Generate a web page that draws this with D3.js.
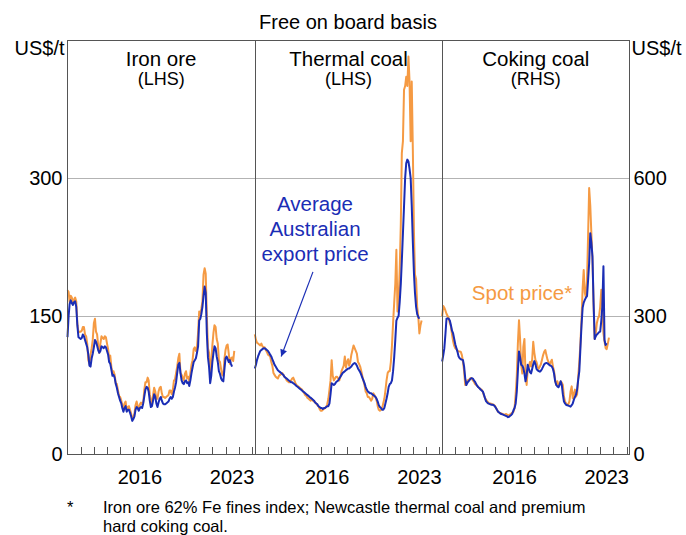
<!DOCTYPE html>
<html>
<head>
<meta charset="utf-8">
<script src="https://cdn.jsdelivr.net/npm/d3@7"></script>
<style>
body { margin: 0; background: #fff; }
text { font-family: "Liberation Sans", Arial, sans-serif; fill: #000; }
</style>
</head>
<body>
<svg id="chart" width="686" height="535"></svg>
<script>
// monthly series, first value is Jan 2011
const panelNames = ["Iron ore", "Thermal coal", "Coking coal"];
const panelSides = ["(LHS)", "(LHS)", "(RHS)"];

const ironSpot = [
  178,176,165,172,170,165,168,170,166,142,132,133,
  133,134,138,138,130,128,120,102,98,108,115,124,
  142,147,133,130,118,110,120,128,126,125,128,127,
  120,114,104,107,95,87,90,86,77,76,69,63,
  62,58,53,48,55,57,48,51,52,48,44,38,
  40,44,53,57,52,48,54,56,54,56,70,78,
  78,83,80,65,58,55,64,72,68,60,60,68,
  72,73,66,62,62,61,62,63,64,69,69,65,
  70,80,81,88,95,104,109,88,86,83,80,87,
  90,82,84,79,88,97,102,114,116,112,116,132,
  155,152,158,166,195,202,196,150,115,110,88,100,
  118,132,140,138,125,120,102,100,92,86,85,103,
  113,118,119,109,98,104,105,101,112
];
const ironExport = [
  127,150,163,167,164,162,165,166,160,140,127,126,
  125,126,130,128,124,120,116,108,96,95,104,109,
  116,124,122,118,113,110,112,117,116,115,117,116,
  112,108,100,98,92,85,86,83,76,72,66,62,
  58,55,50,46,50,52,46,48,48,45,41,36,
  38,41,48,51,50,47,50,51,50,55,63,70,
  73,72,68,58,51,52,58,65,62,55,51,56,
  60,62,58,55,54,54,55,56,57,60,62,60,
  62,68,72,78,88,97,99,88,80,77,76,79,
  80,77,78,74,80,88,94,100,102,104,110,117,
  145,147,152,160,172,182,175,131,105,95,77,85,
  100,110,117,115,106,100,90,87,82,80,79,92,
  104,106,103,100,102,98,95
];
const thermalSpot = [
  130,124,121,120,119,118,120,117,116,116,113,111,
  108,107,106,100,96,88,86,84,83,82,85,86,
  87,88,86,84,83,80,79,78,78,80,82,83,
  80,77,75,74,73,72,71,70,68,66,64,63,
  61,60,59,58,60,58,57,56,55,53,52,49,
  47,47,48,49,50,51,54,60,70,80,102,85,
  80,82,84,84,82,80,84,90,93,96,106,94,
  100,103,96,100,108,113,118,115,112,109,100,98,
  95,90,85,80,75,68,66,62,62,60,58,60,
  66,64,62,58,52,48,47,48,50,55,60,69,
  80,88,90,90,100,118,142,164,185,222,155,165,
  200,250,327,340,396,400,410,400,432,405,340,405,
  330,240,195,190,160,149,131,140,145
];
const thermalExport = [
  93,97,102,106,109,112,113,114,115,115,114,113,
  112,110,108,106,103,100,97,95,93,91,90,89,
  88,87,86,84,83,82,81,80,79,78,78,77,
  76,75,74,73,72,71,70,69,68,67,66,65,
  64,63,62,61,60,59,58,56,55,54,52,51,
  50,50,49,50,50,51,52,52,55,65,77,76,
  75,76,78,79,80,82,84,86,88,89,90,91,
  92,93,93,94,95,97,98,99,98,96,93,91,
  89,86,83,80,77,73,70,68,67,66,66,65,
  64,63,62,60,57,53,51,50,48,48,50,55,
  60,66,73,76,77,80,90,105,124,145,148,150,
  165,185,210,240,269,300,316,320,318,310,300,270,
  230,196,175,160,152,149,147
];
const cokingSpot = [
  300,322,318,312,305,300,295,285,277,260,245,235,
  230,228,225,223,223,222,215,200,180,150,155,160,
  161,163,165,164,160,157,152,150,148,145,143,141,
  140,135,128,122,118,115,112,110,110,109,108,107,
  105,100,96,92,90,89,88,87,86,85,87,86,
  84,85,86,88,90,92,100,130,170,240,291,250,
  194,175,233,250,175,150,183,190,200,190,205,244,
  220,204,200,190,185,190,195,205,215,222,226,215,
  205,199,195,200,205,190,180,161,150,158,150,152,
  158,155,150,125,114,110,107,108,115,136,147,121,
  130,140,125,130,168,200,240,291,360,400,350,340,
  378,480,578,540,480,420,330,250,262,285,295,299,
  320,357,330,262,245,230,228,240,253
];
const cokingExport = [
  201,215,229,260,294,295,294,290,280,268,262,250,
  238,230,222,212,208,206,205,204,190,165,150,155,
  158,161,164,165,164,160,157,152,148,145,143,140,
  138,136,130,122,115,112,110,109,108,107,107,106,
  104,100,96,92,90,88,87,86,85,84,83,82,
  80,81,83,85,88,95,100,110,136,180,223,210,
  194,192,187,175,158,172,194,185,178,175,185,195,
  202,195,185,182,180,179,181,185,190,195,197,198,
  197,195,193,192,190,185,175,158,150,147,145,150,
  158,150,130,114,110,107,106,105,104,103,106,110,
  118,124,129,140,161,180,229,280,318,329,335,340,
  343,380,415,480,460,429,330,250,256,260,262,265,
  266,290,320,408,248,237,241
];

const leftTicks = [0, 150, 300];
const rightTicks = [0, 300, 600];
const yearLabels = [2016, 2023];

let svg = d3.select("#chart");
let plotLeft = 67.5, plotRight = 629.5, plotTop = 40, plotBottom = 454;
let pw = (plotRight - plotLeft) / 3;
let orange = "#f59a43", blue = "#1a2db5", frame = "#555";

let yL = d3.scaleLinear().domain([0, 450]).range([plotBottom, plotTop]);
let yR = d3.scaleLinear().domain([0, 900]).range([plotBottom, plotTop]);

let series = [
  {spot: ironSpot, exp: ironExport, y: yL},
  {spot: thermalSpot, exp: thermalExport, y: yL},
  {spot: cokingSpot, exp: cokingExport, y: yR}
];

function monthDate(i) {
  return new Date(2011, i, 1);
}

// gridlines
svg.append("g").selectAll("line")
  .data(leftTicks.filter(d => d > 0))
  .enter().append("line")
  .attr("x1", plotLeft).attr("x2", plotRight)
  .attr("y1", d => Math.round(yL(d)) + 0.5)
  .attr("y2", d => Math.round(yL(d)) + 0.5)
  .attr("stroke", "#b3b3b3").attr("stroke-width", 1);

let xs = [];
series.forEach(function (s, i) {
  let x = d3.scaleTime()
    .domain([new Date(2011, 0, 1), new Date(2025, 2, 24)])
    .range([plotLeft + i * pw, plotLeft + (i + 1) * pw]);
  xs.push(x);
  let g = svg.append("g");

  let line = d3.line()
    .x((d, k) => x(monthDate(k)))
    .y(d => s.y(d));

  g.append("path").datum(s.spot)
    .attr("d", line)
    .attr("fill", "none").attr("stroke", orange)
    .attr("stroke-width", 2).attr("stroke-linejoin", "round");
  g.append("path").datum(s.exp)
    .attr("d", line)
    .attr("fill", "none").attr("stroke", blue)
    .attr("stroke-width", 2).attr("stroke-linejoin", "round");

  // year ticks
  g.selectAll("line.tick")
    .data(d3.timeYear.range(new Date(2012, 0, 1), new Date(2025, 6, 1)))
    .enter().append("line")
    .attr("x1", d => Math.round(x(d)) + 0.5)
    .attr("x2", d => Math.round(x(d)) + 0.5)
    .attr("y1", plotBottom).attr("y2", plotBottom - 7)
    .attr("stroke", frame).attr("stroke-width", 1);

  g.selectAll("text.year")
    .data(yearLabels)
    .enter().append("text")
    .attr("x", d => x(new Date(d, 6, 1)))
    .attr("y", 484)
    .attr("text-anchor", "middle")
    .style("font-size", "20px")
    .text(d => d);

  let cx = plotLeft + (i + 0.5) * pw;
  g.append("text").attr("x", cx).attr("y", 66)
    .attr("text-anchor", "middle").style("font-size", "20.5px")
    .text(panelNames[i]);
  g.append("text").attr("x", cx).attr("y", 85)
    .attr("text-anchor", "middle").style("font-size", "18px")
    .text(panelSides[i]);
});

// frame and panel dividers
svg.append("rect")
  .attr("x", plotLeft).attr("y", plotTop + 0.5)
  .attr("width", plotRight - plotLeft).attr("height", plotBottom - plotTop)
  .attr("fill", "none").attr("stroke", frame).attr("stroke-width", 1);
[1, 2].forEach(function (k) {
  let px = Math.round(plotLeft + k * pw) + 0.5;
  svg.append("line").attr("x1", px).attr("x2", px)
    .attr("y1", plotTop).attr("y2", plotBottom)
    .attr("stroke", frame).attr("stroke-width", 1);
});

// y axis labels
svg.append("g").selectAll("text")
  .data(leftTicks).enter().append("text")
  .attr("x", plotLeft - 5).attr("y", d => yL(d))
  .attr("dy", "0.35em").attr("text-anchor", "end")
  .style("font-size", "20px").text(d => d);
svg.append("g").selectAll("text")
  .data(rightTicks).enter().append("text")
  .attr("x", plotRight + 4).attr("y", d => yR(d))
  .attr("dy", "0.35em").attr("text-anchor", "start")
  .style("font-size", "20px").text(d => d);

svg.append("text").attr("x", plotLeft - 3).attr("y", 55)
  .attr("text-anchor", "end").style("font-size", "20px").text("US$/t");
svg.append("text").attr("x", plotRight + 2).attr("y", 55)
  .attr("text-anchor", "start").style("font-size", "20px").text("US$/t");

svg.append("text").attr("x", 348).attr("y", 29)
  .attr("text-anchor", "middle").style("font-size", "20px")
  .text("Free on board basis");

// annotations
let x2 = xs[1];
["Average", "Australian", "export price"].forEach(function (t, k) {
  svg.append("text").attr("x", 315).attr("y", 211 + k * 25)
    .attr("text-anchor", "middle").style("font-size", "20.5px")
    .style("fill", blue).text(t);
});

svg.append("defs").append("marker")
  .attr("id", "arrow")
  .attr("viewBox", "0 -5 10 10")
  .attr("refX", 10).attr("refY", 0)
  .attr("markerWidth", 8).attr("markerHeight", 7)
  .attr("markerUnits", "userSpaceOnUse")
  .attr("orient", "auto")
  .append("path").attr("d", "M0,-5L10,0L0,5Z").attr("fill", blue);

svg.append("line")
  .attr("x1", x2(new Date(2015, 5, 1))).attr("y1", yL(198))
  .attr("x2", x2(new Date(2013, 0, 1))).attr("y2", yL(106))
  .attr("stroke", blue).attr("stroke-width", 1.2)
  .attr("marker-end", "url(#arrow)");

svg.append("text").attr("x", 522).attr("y", 300)
  .attr("text-anchor", "middle").style("font-size", "20.5px")
  .style("fill", orange).text("Spot price*");

// footnote
svg.append("text").attr("x", 67).attr("y", 513)
  .style("font-size", "16.5px").text("*");
svg.append("text").attr("x", 103).attr("y", 513)
  .style("font-size", "16.5px")
  .text("Iron ore 62% Fe fines index; Newcastle thermal coal and premium");
svg.append("text").attr("x", 103).attr("y", 532)
  .style("font-size", "16.5px").text("hard coking coal.");
</script>
</body>
</html>
